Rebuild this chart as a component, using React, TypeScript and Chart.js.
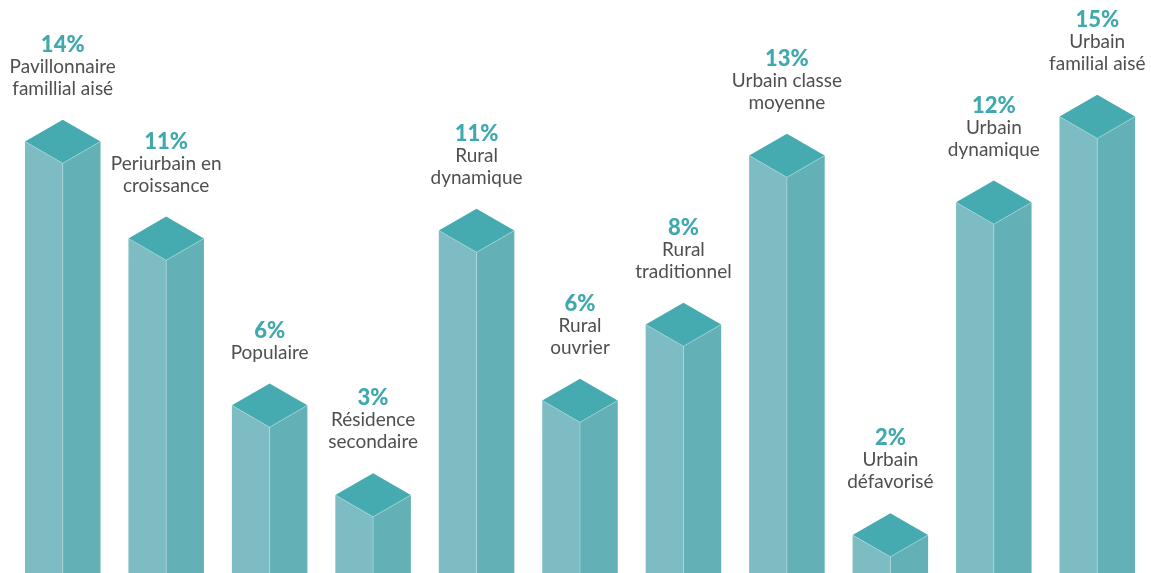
import React, { useEffect, useRef } from "react";
import { Chart, registerables } from "chart.js";

Chart.register(...registerables);

// Categories (multi-line names as shown above each bar)
const categories: string[][] = [
  ["Pavillonnaire", "famillial aisé"],
  ["Periurbain en", "croissance"],
  ["Populaire"],
  ["Résidence", "secondaire"],
  ["Rural", "dynamique"],
  ["Rural", "ouvrier"],
  ["Rural", "traditionnel"],
  ["Urbain classe", "moyenne"],
  ["Urbain", "défavorisé"],
  ["Urbain", "dynamique"],
  ["Urbain", "familial aisé"],
];

// Share of each type (%)
const shares: number[] = [13.87, 10.91, 5.81, 3.07, 11.15, 5.96, 8.28, 13.44, 1.85, 12.01, 14.63];

// Value axis range (bars start at the axis minimum)
const axisMin = 1.27;
const axisMax = 17;

const TOP_COLOR = "#46abb0";
const LEFT_COLOR = "#7cbcc2";
const RIGHT_COLOR = "#63b1b6";
const PCT_COLOR = "#3fa9ae";
const TEXT_COLOR = "#4f4f4f";

const isoPlugin = {
  id: "isoBars",
  afterDatasetsDraw(chart: any) {
    const ctx: CanvasRenderingContext2D = chart.ctx;
    const meta = chart.getDatasetMeta(0);
    const data = chart.data.datasets[0].data as number[];
    const labels = chart.data.labels as string[][];
    ctx.save();
    meta.data.forEach((el: any, i: number) => {
      const { x, y, base, width } = el.getProps(["x", "y", "base", "width"], true);
      const hw = width / 2;
      const d = hw * Math.tan(Math.PI / 6);
      // left face
      ctx.beginPath();
      ctx.moveTo(x - hw, y);
      ctx.lineTo(x, y + d);
      ctx.lineTo(x, base + d);
      ctx.lineTo(x - hw, base);
      ctx.closePath();
      ctx.fillStyle = LEFT_COLOR;
      ctx.fill();
      // right face
      ctx.beginPath();
      ctx.moveTo(x, y + d);
      ctx.lineTo(x + hw, y);
      ctx.lineTo(x + hw, base);
      ctx.lineTo(x, base + d);
      ctx.closePath();
      ctx.fillStyle = RIGHT_COLOR;
      ctx.fill();
      // top diamond
      ctx.beginPath();
      ctx.moveTo(x, y - d);
      ctx.lineTo(x + hw, y);
      ctx.lineTo(x, y + d);
      ctx.lineTo(x - hw, y);
      ctx.closePath();
      ctx.fillStyle = TOP_COLOR;
      ctx.fill();
      // light hairline edges
      ctx.strokeStyle = "rgba(255,255,255,0.35)";
      ctx.lineWidth = 0.8;
      ctx.beginPath();
      ctx.moveTo(x - hw, y);
      ctx.lineTo(x, y + d);
      ctx.lineTo(x + hw, y);
      ctx.moveTo(x, y + d);
      ctx.lineTo(x, base + d);
      ctx.stroke();

      // labels
      const lines = labels[i];
      const lineH = 22;
      const lastY = y - d - 31;
      ctx.textAlign = "center";
      ctx.textBaseline = "middle";
      ctx.fillStyle = TEXT_COLOR;
      ctx.font = "19px Lato, 'Noto Sans', sans-serif";
      lines.forEach((ln, j) => {
        ctx.fillText(ln, x, lastY - (lines.length - 1 - j) * lineH);
      });
      ctx.fillStyle = PCT_COLOR;
      ctx.font = "900 22px Lato, 'Noto Sans', sans-serif";
      ctx.fillText(Math.round(data[i]) + "%", x, lastY - lines.length * lineH);
    });
    ctx.restore();
  },
};

export default function App() {
  const ref = useRef<HTMLCanvasElement | null>(null);
  useEffect(() => {
    if (!ref.current) return;
    const chart = new Chart(ref.current, {
      type: "bar",
      data: {
        labels: categories as any,
        datasets: [
          {
            data: shares,
            backgroundColor: "rgba(0,0,0,0)",
            borderWidth: 0,
            categoryPercentage: 1,
            barPercentage: 0.73,
          },
        ],
      },
      options: {
        animation: false,
        responsive: true,
        maintainAspectRatio: false,
        layout: { padding: { left: 11, right: 2, top: 39, bottom: 19 } },
        plugins: { legend: { display: false }, tooltip: { enabled: false } },
        scales: {
          x: { display: false, offset: true },
          y: { display: false, min: axisMin, max: axisMax },
        },
      },
      plugins: [isoPlugin],
    });
    return () => chart.destroy();
  }, []);
  return (
    <div style={{ position: "absolute", left: 0, top: 0, width: 1151, height: 573, background: "#fff" }}>
      <canvas ref={ref} />
    </div>
  );
}
